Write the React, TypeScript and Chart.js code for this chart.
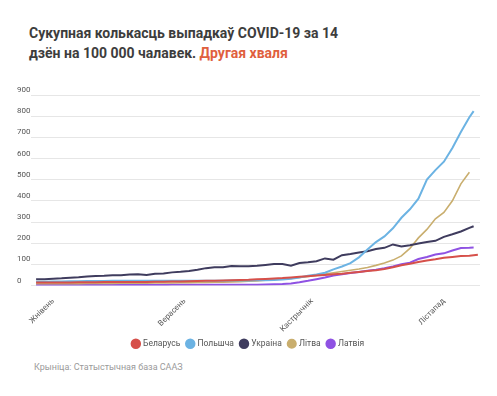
import React, { useEffect, useRef } from "react";
import { Chart, registerables } from "chart.js";

Chart.register(...registerables);

// Day index: 0 = 28 July 2020
const DAYS = [
  0, 2, 4, 6, 8, 10, 12, 14, 16, 18, 20, 22, 24, 26, 28, 30, 32, 34, 36, 38,
  40, 42, 44, 46, 48, 50, 52, 54, 56, 58, 60, 62, 64, 66, 68, 70, 72, 74, 76, 78,
  80, 82, 84, 86, 88, 90, 92, 94, 96, 98, 100, 102, 103, 104,
];
const MONTH_TICKS = [4, 35, 65, 96];
const MONTH_LABELS = ["Жнівень", "Верасень", "Кастрычнік", "Лістапад"];
const Y_TICKS = [0, 100, 200, 300, 400, 500, 600, 700, 800, 900];

const SERIES_NAMES = ["Беларусь", "Польшча", "Украіна", "Літва", "Латвія"];
const SERIES_COLORS = ["#d6504a", "#6cb3e3", "#3f3c5e", "#c9ae6e", "#8f52e3"];

const BELARUS = [
  14, 14, 14, 14, 14, 15, 15, 15, 16, 16,
  16, 17, 17, 17, 18, 18, 19, 19, 20, 21,
  22, 23, 24, 25, 26, 27, 29, 31, 33, 35,
  38, 41, 44, 47, 50, 53, 56, 60, 64, 68,
  72, 78, 86, 96, 103, 111, 118, 124, 131, 135,
  139, 141, 143, 145,
];
const POLAND = [
  18, 18, 19, 19, 20, 20, 21, 21, 21, 22,
  22, 22, 22, 22, 22, 22, 22, 22, 22, 22,
  23, 23, 23, 24, 24, 24, 25, 25, 26, 28,
  32, 38, 46, 52, 60, 76, 90, 106, 133, 170,
  205, 232, 270, 320, 360, 410, 500, 545, 585, 650,
  725, 795, 824,
];
const UKRAINE = [
  29, 30, 32, 34, 37, 39, 42, 45, 46, 48,
  49, 52, 53, 50, 55, 57, 62, 65, 69, 74,
  82, 86, 86, 92, 91, 91, 93, 97, 101, 101,
  93, 106, 110, 115, 128, 122, 143, 149, 156, 162,
  172, 178, 194, 184, 190, 198, 205, 211, 230, 242,
  255, 272, 280,
];
const LITHUANIA = [
  8, 8, 9, 9, 9, 9, 10, 10, 10, 10,
  11, 11, 11, 11, 12, 12, 12, 13, 13, 14,
  14, 15, 16, 17, 18, 20, 22, 25, 28, 31,
  33, 38, 43, 48, 54, 60, 66, 72, 78, 85,
  95, 106, 120, 140, 175, 225, 265, 315, 345, 400,
  480, 535,
];
const LATVIA = [
  2, 2, 2, 2, 2, 2, 2, 2, 2, 2,
  2, 2, 2, 2, 2, 2, 3, 3, 3, 3,
  3, 3, 3, 3, 3, 4, 4, 5, 6, 7,
  10, 15, 22, 30, 38, 47, 53, 59, 64, 70,
  75, 82, 90, 100, 108, 125, 135, 146, 152, 165,
  177, 178, 179,
];

const SERIES_VALUES = [BELARUS, POLAND, UKRAINE, LITHUANIA, LATVIA];
const SERIES_WIDTHS = [2, 2, 2, 1.6, 2];

const FONT = "Roboto, 'Noto Sans', sans-serif";

export default function App() {
  const ref = useRef<HTMLCanvasElement | null>(null);

  useEffect(() => {
    if (!ref.current) return;
    const datasets = SERIES_NAMES.map((name, si) => ({
      label: name,
      data: SERIES_VALUES[si].map((v, i) => ({ x: DAYS[i], y: v })),
      borderColor: SERIES_COLORS[si],
      backgroundColor: SERIES_COLORS[si],
      borderWidth: SERIES_WIDTHS[si],
      pointRadius: 0,
      pointStyle: "circle",
      tension: 0,
      fill: false,
    }));
    const chart = new Chart(ref.current, {
      type: "line",
      data: { datasets },
      options: {
        animation: false,
        responsive: false,
        layout: { padding: { top: 25, left: 17, right: 17, bottom: 2 } },
        plugins: {
          legend: {
            position: "bottom",
            labels: {
              usePointStyle: true,
              boxWidth: 6,
              boxHeight: 6,
              padding: 7,
              color: "#555",
              font: { family: FONT, size: 8.5 },
            },
          },
          tooltip: { enabled: false },
        },
        scales: {
          x: {
            type: "linear",
            min: -1.2,
            max: 104.5,
            grid: { display: false },
            border: { display: false },
            afterBuildTicks: (s: any) => {
              s.ticks = MONTH_TICKS.map((v) => ({ value: v }));
            },
            afterFit: (s: any) => {
              s.height = 47;
            },
            ticks: {
              autoSkip: false,
              maxRotation: 45,
              minRotation: 45,
              padding: 3,
              color: "#555",
              font: { family: FONT, size: 8 },
              callback: (_v: any, i: number) => MONTH_LABELS[i] ?? "",
            },
          },
          y: {
            min: 0,
            max: 900,
            afterBuildTicks: (s: any) => {
              s.ticks = Y_TICKS.map((v) => ({ value: v }));
            },
            afterFit: (s: any) => {
              s.width = 14;
            },
            grid: { color: "#e6e6e6", drawTicks: false, lineWidth: 1 },
            border: { display: false },
            ticks: {
              crossAlign: "far",
              labelOffset: -5,
              padding: 0,
              color: "#555",
              font: { family: FONT, size: 8 },
            },
          },
        },
      } as any,
    });
    return () => chart.destroy();
  }, []);

  return (
    <div
      style={{
        position: "absolute",
        left: 0,
        top: 0,
        width: 497,
        height: 396,
        background: "#fff",
        fontFamily: FONT,
        overflow: "hidden",
      }}
    >
      <div
        style={{
          position: "absolute",
          left: 29,
          top: 23,
          fontSize: 14,
          lineHeight: "20px",
          fontWeight: 700,
          color: "#3d3d3d",
          whiteSpace: "nowrap",
        }}
      >
        Сукупная колькасць выпадкаў COVID-19 за 14
        <br />
        дзён на 100 000 чалавек. <span style={{ color: "#e0603e" }}>Другая хваля</span>
      </div>
      <canvas
        ref={ref}
        width={497}
        height={290}
        style={{ position: "absolute", left: 0, top: 70, width: 497, height: 290, display: "block" }}
      />
      <div
        style={{
          position: "absolute",
          left: 34,
          top: 361,
          fontSize: 9,
          lineHeight: "12px",
          color: "#9a9a9a",
          whiteSpace: "nowrap",
        }}
      >
        Крыніца: Статыстычная база СААЗ
      </div>
    </div>
  );
}
